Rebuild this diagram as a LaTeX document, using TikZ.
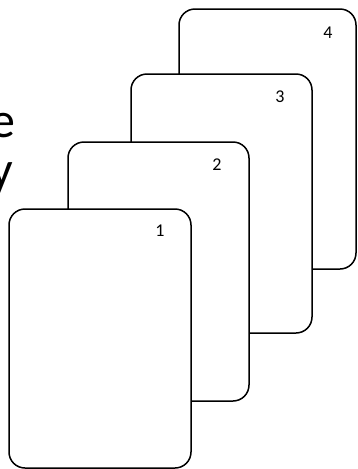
\documentclass[tikz,border=0pt]{standalone}
\usepackage{fontspec}
\setmainfont{Carlito}
\tikzset{
  card/.style={draw=black, fill=white, line width=1.5pt, rounded corners=16pt, inner sep=0pt},
  num/.style={inner sep=0pt, font=\fontsize{18}{18}\selectfont},
  big/.style={inner sep=0pt, font=\fontsize{50}{50}\selectfont, anchor=base east}
}
\begin{document}
\begin{tikzpicture}[x=1pt,y=-1pt]
\useasboundingbox (0,0) rectangle (358,469);
\clip (0,0) rectangle (358,469);
\node[big] (te) at (16,137) {e};
\node[big] (ty) at (13,186) {y};
\node[card, minimum width=177pt, minimum height=260pt] (c4) at (267.5,139) {};
\node[card, minimum width=181pt, minimum height=259pt] (c3) at (221.5,203.5) {};
\node[card, minimum width=181pt, minimum height=259pt] (c2) at (158.5,271.5) {};
\node[card, minimum width=182pt, minimum height=259pt] (c1) at (100,338.5) {};
\node[num] (n4) at (328,33) {4};
\node[num] (n3) at (280,97) {3};
\node[num] (n2) at (217,165) {2};
\node[num] (n1) at (160,231) {1};
\end{tikzpicture}
\end{document}
